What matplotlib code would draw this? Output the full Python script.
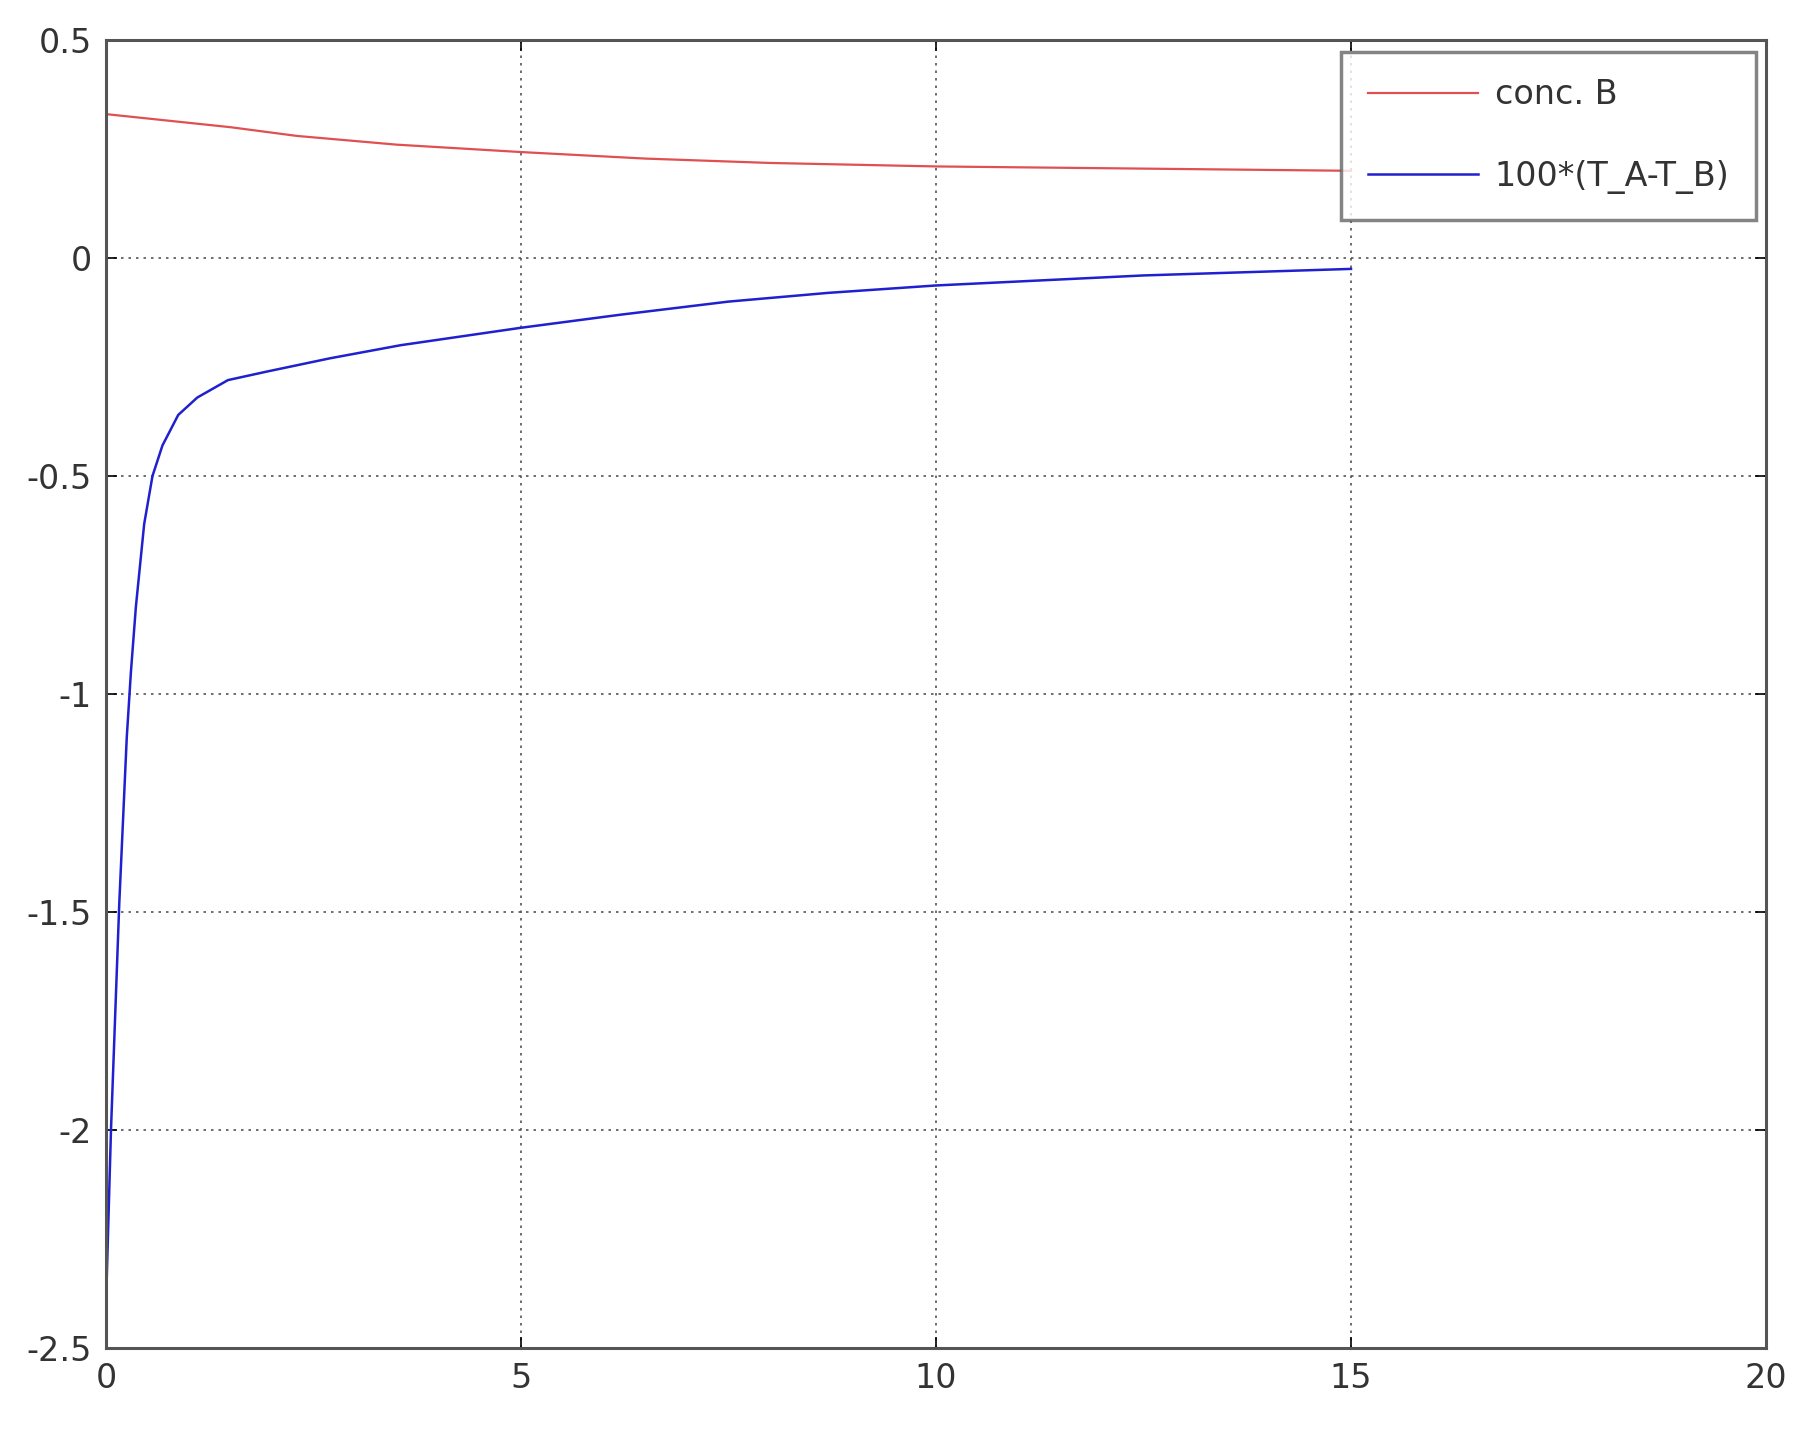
import numpy as np
import matplotlib
matplotlib.use('Agg')
import matplotlib.pyplot as plt

# values
t_conc = [0, 0.0, 0.5, 1.5, 2.3, 3.5, 5, 6.5, 8, 10, 12.5, 15]
conc_b = [0, 0.33, 0.32, 0.30, 0.28, 0.26, 0.243, 0.228, 0.218, 0.21, 0.205, 0.20]

t_diff = [0, 0.06, 0.16, 0.25, 0.30, 0.36, 0.46, 0.56, 0.68, 0.87, 1.1, 1.47, 1.95,
          2.7, 3.55, 5, 6.2, 7.5, 8.7, 10, 12.5, 15]
diff_t = [-2.4, -2.0, -1.48, -1.1, -0.95, -0.8, -0.61, -0.5, -0.43, -0.36, -0.32,
          -0.28, -0.26, -0.23, -0.20, -0.16, -0.13, -0.10, -0.08, -0.063, -0.04, -0.025]

xticks = [0, 5, 10, 15, 20]
yticks = [-2.5, -2, -1.5, -1, -0.5, 0, 0.5]
ylabels = ['-2.5', '-2', '-1.5', '-1', '-0.5', '0', '0.5']

fig = plt.figure(figsize=(18.03, 14.4), dpi=100)
ax = fig.add_axes([106 / 1803, 1 - 1348 / 1440, (1766 - 106) / 1803, (1348 - 40) / 1440])

ax.plot(t_conc, conc_b, color='#e05050', lw=1.6, label='conc. B')
ax.plot(t_diff, diff_t, color='#2020d0', lw=1.8, label='100*(T_A-T_B)')

ax.set_xlim(0, 20)
ax.set_ylim(-2.5, 0.5)
ax.set_xticks(xticks)
ax.set_xticklabels([str(v) for v in xticks])
ax.set_yticks(yticks)
ax.set_yticklabels(ylabels)
ax.grid(True, color='#555555', linestyle=(0, (1.5, 3)), lw=1.2)
ax.tick_params(direction='in', length=8, width=1.2, top=True, right=True,
               labelsize=24, labelcolor='#333333', pad=10)
for s in ax.spines.values():
    s.set_color('#555555')
    s.set_linewidth(2.2)

leg = ax.legend(loc='upper right', fontsize=24, frameon=True, fancybox=False,
                borderpad=0.8, labelspacing=1.45, handlelength=3.3, handletextpad=0.5,
                borderaxespad=0, bbox_to_anchor=(0.994, 0.991))
leg.get_frame().set_edgecolor('#666666')
leg.get_frame().set_linewidth(2.5)
for txt in leg.get_texts():
    txt.set_color('#333333')

fig.savefig('out.png', dpi=100)
